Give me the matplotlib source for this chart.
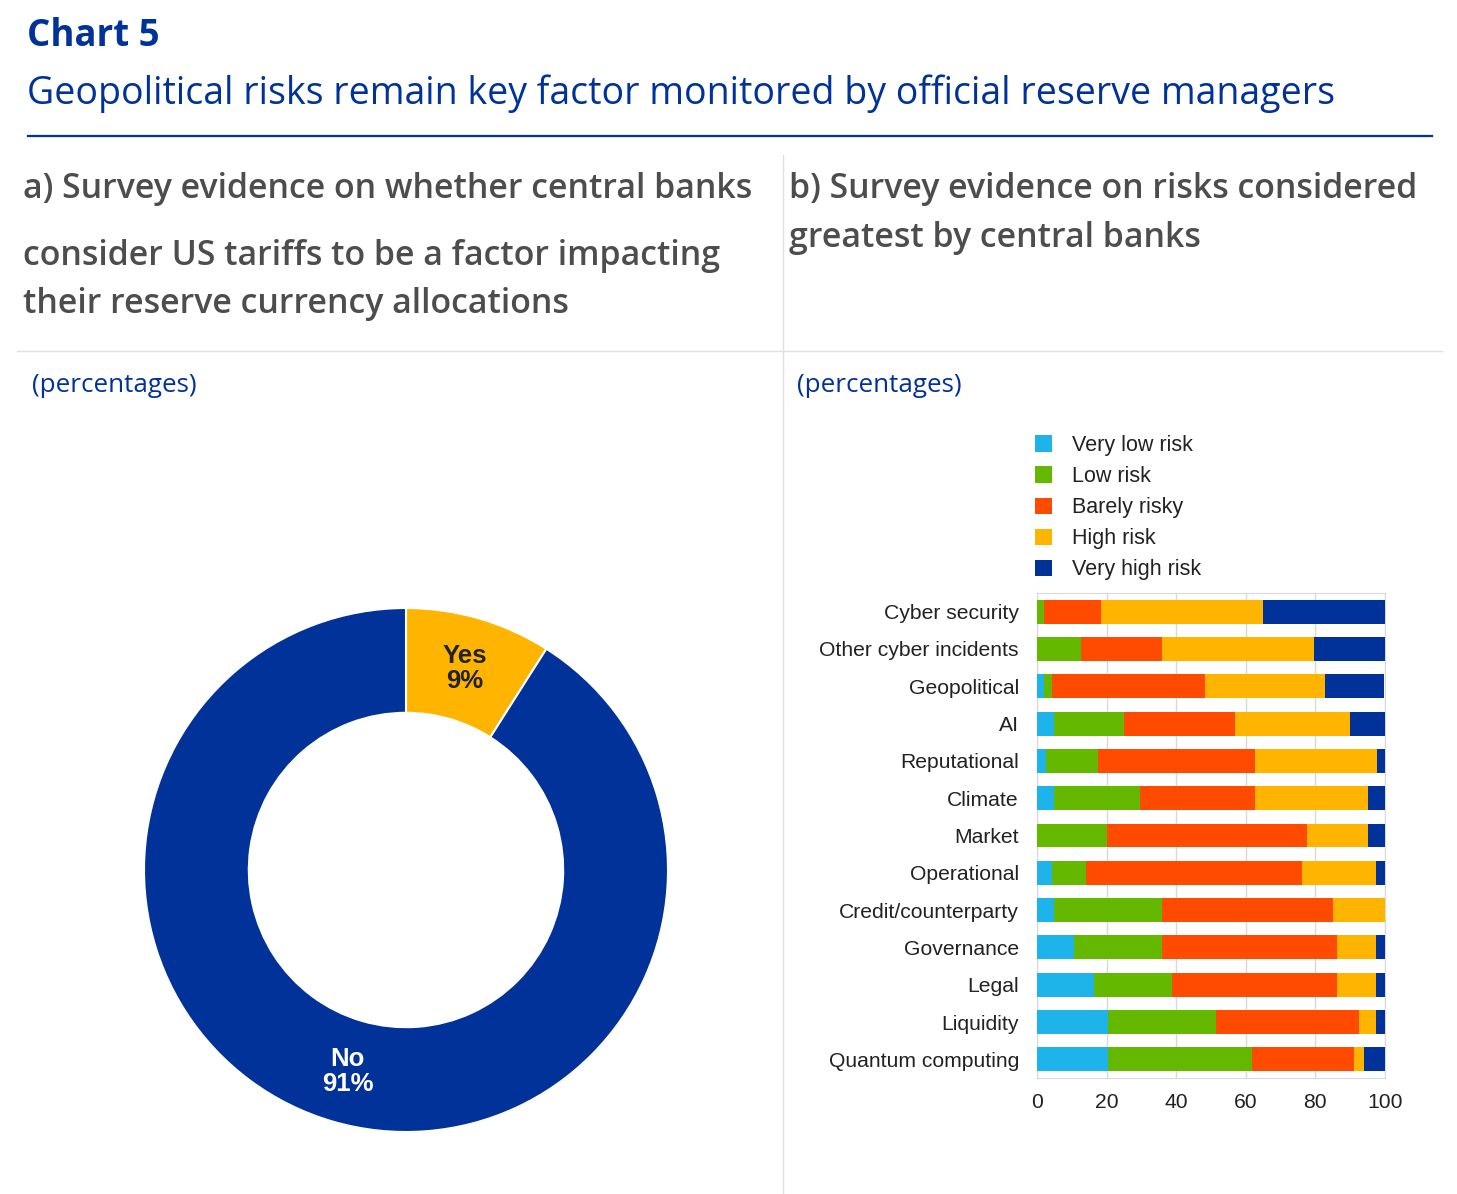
import matplotlib.pyplot as plt
from matplotlib.lines import Line2D
from matplotlib.patches import Patch
import numpy as np

plt.rcParams['font.family'] = ['Open Sans', 'DejaVu Sans']

# panel a: donut
pie_labels = ['Yes', 'No']
pie_values = [9, 91]
pie_colors = ['#FFB400', '#003299']
pie_text_colors = ['#222222', 'white']

# panel b: stacked bars
risks = ['Cyber security', 'Other cyber incidents', 'Geopolitical', 'AI', 'Reputational',
         'Climate', 'Market', 'Operational', 'Credit/counterparty', 'Governance',
         'Legal', 'Liquidity', 'Quantum computing']
very_low = [0, 0, 2, 5, 2.6, 5, 0, 4.4, 5, 10.7, 16.5, 20.5, 20.5]
low = [2, 12.7, 2.3, 20, 15, 24.7, 20, 9.7, 31, 25.3, 22.4, 31, 41.2]
barely = [16.5, 23.3, 44, 32, 45, 33, 57.7, 62, 49, 50.3, 47.4, 41, 29.5]
high = [46.5, 43.5, 34.5, 33, 35, 32.4, 17.4, 21.2, 15, 11.1, 11.1, 5, 2.9]
very_high = [35, 20.5, 17, 10, 2.5, 5, 5, 2.6, 0, 2.6, 2.6, 2.6, 5.9]
series_names = ['Very low risk', 'Low risk', 'Barely risky', 'High risk', 'Very high risk']
series_colors = ['#1EB4EA', '#65B800', '#FF4B00', '#FFB400', '#003299']

W, H = 1457, 1194
fig = plt.figure(figsize=(W / 100, H / 100), dpi=100)


def fx(x):
    return x / W


def fy(y):
    return 1 - y / H


blue = '#003299'
grey = '#4D4D4D'
hsize = 24.4

# titles
fig.text(fx(27), fy(36), 'Chart 5', color=blue, fontsize=26.4, fontweight='bold', va='center')
fig.text(fx(27), fy(94), 'Geopolitical risks remain key factor monitored by official reserve managers',
         color=blue, fontsize=27, va='center')
fig.add_artist(Line2D([fx(28), fx(1432)], [fy(136), fy(136)], color=blue, lw=1.6))

# panel headers
fig.text(fx(23), fy(189), 'a) Survey evidence on whether central banks', color=grey, fontsize=hsize,
         fontweight='semibold', va='center')
fig.text(fx(23), fy(256), 'consider US tariffs to be a factor impacting', color=grey, fontsize=hsize,
         fontweight='semibold', va='center')
fig.text(fx(23), fy(304), 'their reserve currency allocations', color=grey, fontsize=hsize,
         fontweight='semibold', va='center')
fig.text(fx(789), fy(189), 'b) Survey evidence on risks considered', color=grey, fontsize=hsize,
         fontweight='semibold', va='center')
fig.text(fx(789), fy(238), 'greatest by central banks', color=grey, fontsize=hsize,
         fontweight='semibold', va='center')

fig.add_artist(Line2D([fx(783), fx(783)], [fy(155), fy(1194)], color='#E0E0E0', lw=1))
fig.add_artist(Line2D([fx(17), fx(1442)], [fy(351), fy(351)], color='#E0E0E0', lw=1))

fig.text(fx(32), fy(386), '(percentages)', color=blue, fontsize=18.7, va='center')
fig.text(fx(797), fy(386), '(percentages)', color=blue, fontsize=18.7, va='center')

# donut
cx, cy, r = 406, 870, 262
ax1 = fig.add_axes([fx(cx - r), fy(cy + r), 2 * r / W, 2 * r / H])
wedges, _ = ax1.pie(pie_values, colors=pie_colors, startangle=90, counterclock=False,
                    radius=1, wedgeprops=dict(width=0.4, edgecolor='white', linewidth=1.5))
ax1.set_xlim(-1, 1)
ax1.set_ylim(-1, 1)
ax1.set_aspect('equal')
for w, lab, v, tc in zip(wedges, pie_labels, pie_values, pie_text_colors):
    ang = np.deg2rad((w.theta1 + w.theta2) / 2)
    ax1.text(0.8 * np.cos(ang), 0.8 * np.sin(ang), f'{lab}\n{v}%', ha='center', va='center',
             color=tc, fontsize=18.5, fontweight='bold', family=['Liberation Sans', 'DejaVu Sans'],
             linespacing=1.05)

# stacked bars
ax2 = fig.add_axes([fx(1037), fy(1078), 348 / W, 485 / H])
y = np.arange(len(risks))
left = np.zeros(len(risks))
for vals, col in zip([very_low, low, barely, high, very_high], series_colors):
    ax2.barh(y, vals, left=left, color=col, height=0.64, zorder=3)
    left += np.array(vals)
ax2.set_ylim(len(risks) - 0.5, -0.5)
ax2.set_xlim(0, 100)
ax2.set_xticks(range(0, 101, 20))
ax2.set_yticks(y)
ax2.set_yticklabels(risks)
ax2.grid(axis='x', color='#D9D9D9', lw=1, zorder=0)
ax2.tick_params(length=0, labelsize=15.2, colors='#222222', pad=13)
ax2.tick_params(axis='x', pad=11)
for lab in ax2.get_xticklabels() + ax2.get_yticklabels():
    lab.set_family(['Liberation Sans', 'DejaVu Sans'])
for s in ax2.spines.values():
    s.set_color('#D9D9D9')

handles = [Patch(facecolor=c, edgecolor='none') for c in series_colors]
fig.legend(handles, series_names, loc='upper left', bbox_to_anchor=(fx(1035), fy(435)),
           frameon=False, handlelength=0.8, handleheight=0.8, handletextpad=0.9,
           labelspacing=0.47, borderpad=0, borderaxespad=0,
           prop=dict(family=['Liberation Sans', 'DejaVu Sans'], size=15.5), labelcolor='#222222')

fig.savefig('out.png', dpi=100)
